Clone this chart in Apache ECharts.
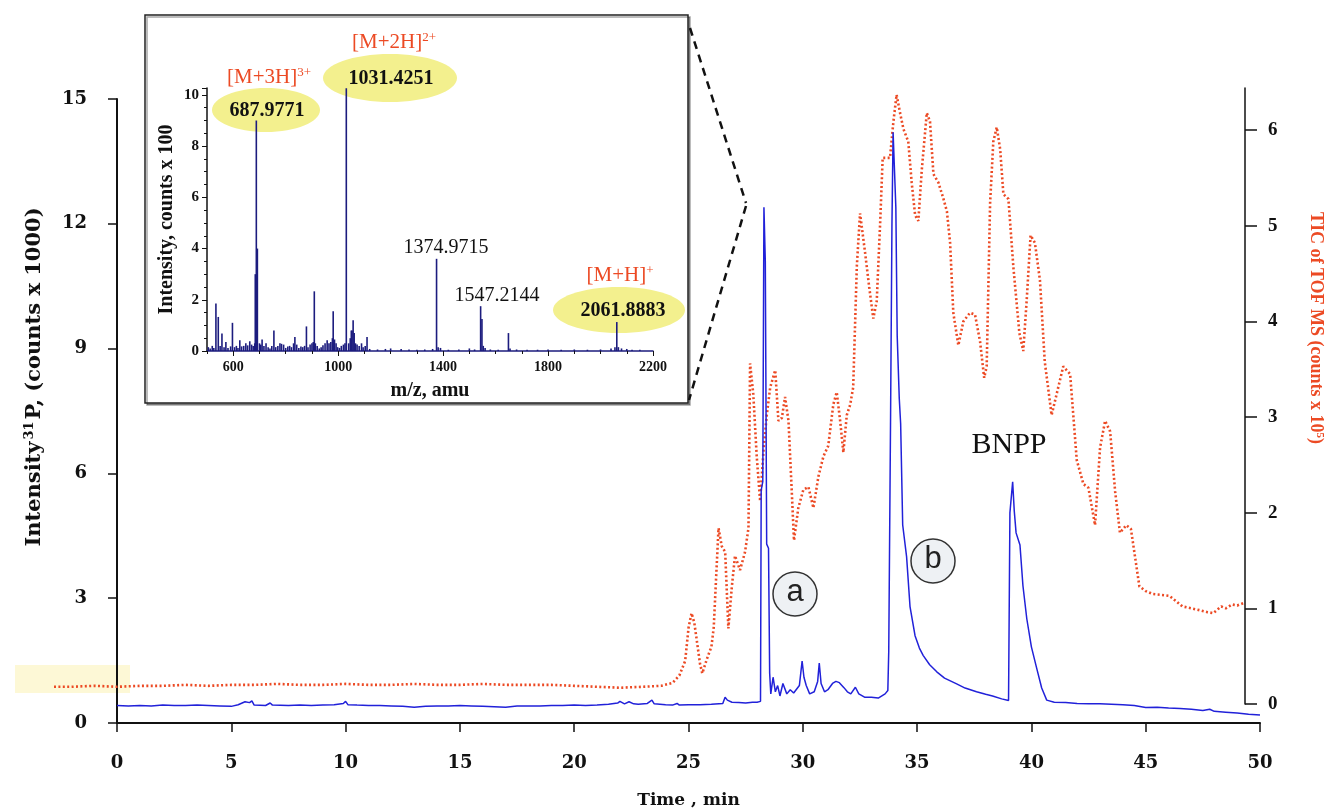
<!DOCTYPE html>
<html>
<head>
<meta charset="utf-8">
<script src="https://cdn.jsdelivr.net/npm/echarts@6/dist/echarts.min.js"></script>
<style>
html, body { margin: 0; padding: 0; background: #fff; }
#chart { width: 1328px; height: 810px; }
</style>
</head>
<body>
<div id="chart"></div>
<script>
// ICP-MS 31P trace (time in min, counts x 1000)
var icpTime = [
  0, 0.5, 1, 1.5, 2, 2.5, 3, 3.5, 4, 4.5, 5, 5.3, 5.6, 5.8, 5.9, 6.0, 6.5, 6.7, 6.8, 7.5,
  8, 8.5, 9, 9.5, 9.9, 10.0, 10.1, 10.5, 11, 11.5, 12, 12.5, 13, 13.5, 14, 14.5, 15, 15.5, 16, 16.5,
  17, 17.5, 18, 18.5, 19, 19.5, 20, 20.5, 21, 21.5, 21.9, 22.0, 22.2, 22.4, 22.6, 22.8, 23.2, 23.4, 23.5, 24,
  24.3, 24.5, 24.6, 25, 25.5, 26, 26.5, 26.6, 26.7, 26.9, 27.2, 27.5, 27.8, 28.0, 28.15,
  28.18, 28.25, 28.3, 28.36, 28.42, 28.5, 28.55, 28.6, 28.7, 28.8, 28.9, 29.0, 29.13, 29.3, 29.45, 29.6,
  29.85, 29.97, 30.05, 30.15, 30.3, 30.5, 30.65, 30.72, 30.8, 30.95, 31.1, 31.3, 31.45, 31.6, 31.8, 31.95,
  32.1, 32.3, 32.45, 32.7, 33.0, 33.3, 33.6, 33.72,
  33.76, 33.84, 33.9, 33.95, 34.03, 34.07, 34.13, 34.22, 34.28, 34.37, 34.54, 34.69, 34.91, 35.1, 35.27,
  35.55, 35.86, 36.2, 36.73, 37.1, 37.6, 38.0, 38.3, 38.7, 39.0,
  39.06, 39.18, 39.25, 39.33, 39.5, 39.63, 39.8, 40.0, 40.23, 40.45, 40.67, 41.0, 41.5, 42, 42.5, 43,
  43.5, 44, 44.5, 45, 45.5, 46, 46.5, 47, 47.5, 47.8, 48, 48.5, 49, 49.5, 50
];
var icpSignal = [
  0.42, 0.41, 0.42, 0.41, 0.43, 0.42, 0.42, 0.43, 0.42, 0.41, 0.40, 0.44, 0.51, 0.49, 0.53, 0.43, 0.42, 0.48, 0.43, 0.42,
  0.43, 0.42, 0.43, 0.44, 0.47, 0.52, 0.44, 0.43, 0.42, 0.42, 0.41, 0.40, 0.38, 0.40, 0.41, 0.41, 0.42, 0.41, 0.40, 0.39,
  0.38, 0.41, 0.41, 0.41, 0.42, 0.42, 0.43, 0.42, 0.43, 0.45, 0.48, 0.52, 0.46, 0.51, 0.46, 0.45, 0.47, 0.55, 0.46, 0.44,
  0.43, 0.47, 0.43, 0.44, 0.44, 0.45, 0.47, 0.62, 0.55, 0.50, 0.49, 0.48, 0.50, 0.50, 0.52,
  5.6, 5.8, 12.4, 11.1, 4.3, 4.2, 1.2, 0.7, 1.1, 0.75, 0.9, 0.65, 0.95, 0.7, 0.8, 0.72,
  0.9, 1.49, 1.1, 0.9, 0.7, 0.75, 1.0, 1.44, 0.95, 0.75, 0.8, 0.95, 1.0, 0.97, 0.85, 0.75,
  0.7, 0.86, 0.7, 0.62, 0.62, 0.6, 0.7, 0.78,
  1.73, 7.4, 12.0, 14.2, 13.0, 12.4, 9.3, 7.8, 7.2, 4.76, 4.0, 2.8, 2.1, 1.8, 1.62,
  1.4, 1.23, 1.08, 0.94, 0.84, 0.75, 0.69, 0.65, 0.58, 0.54,
  5.05, 5.8, 5.1, 4.57, 4.28, 3.3, 2.5, 1.83, 1.32, 0.84, 0.55, 0.5, 0.49, 0.47, 0.46, 0.46,
  0.45, 0.44, 0.42, 0.37, 0.38, 0.36, 0.35, 0.33, 0.3, 0.33, 0.28, 0.26, 0.24, 0.21, 0.19
];

// TIC of TOF MS (time in min, counts x 10^5)
var ticTime = [
  -2.76, -2, -1, 0, 1, 2, 3, 4, 5, 6, 7, 8, 9, 10, 11, 12, 13, 14, 15, 16, 17, 18, 19, 20, 21, 22, 23, 23.8, 24.3, 24.6, 24.85,
  25.0, 25.13, 25.25, 25.35, 25.5, 25.6, 25.8, 26.0, 26.1, 26.2, 26.31, 26.45, 26.6, 26.74, 26.89, 27.03, 27.25, 27.47, 27.62, 27.69,
  27.83, 27.98, 28.13, 28.28, 28.42, 28.57, 28.79, 28.93, 29.08, 29.22, 29.37, 29.51, 29.61, 29.8, 30.02, 30.24, 30.46, 30.68, 30.9, 31.11,
  31.33, 31.48, 31.63, 31.77, 31.92, 32.07, 32.2, 32.36, 32.5, 32.72, 32.9, 33.08, 33.23, 33.38, 33.49, 33.81, 33.96, 34.1, 34.25, 34.4,
  34.61, 34.76, 34.91, 35.05, 35.2, 35.42, 35.56, 35.71, 35.93, 36.15, 36.3, 36.44, 36.58, 36.8, 37.02, 37.31, 37.53, 37.75, 37.93, 38.04,
  38.19, 38.33, 38.48, 38.63, 38.77, 38.99, 39.21, 39.47, 39.64, 39.79, 39.96, 40.15, 40.37, 40.58, 40.88, 41.1, 41.39, 41.69, 41.98, 42.27,
  42.49, 42.78, 43.0, 43.22, 43.44, 43.66, 43.87, 44.15, 44.35, 44.72, 45.0, 45.3, 45.7, 46.04, 46.3, 46.6, 47.0, 47.37, 47.7, 47.95,
  48.3, 48.5, 48.78, 49.0, 49.34
];
var ticSignal = [
  0.18, 0.18, 0.19, 0.18, 0.19, 0.19, 0.2, 0.19, 0.2, 0.2, 0.21, 0.2, 0.2, 0.21, 0.2, 0.2, 0.21, 0.2, 0.2, 0.21, 0.2, 0.2, 0.2, 0.19, 0.18, 0.17, 0.18, 0.19, 0.22, 0.3, 0.45,
  0.8, 0.95, 0.85, 0.68, 0.42, 0.32, 0.47, 0.6, 0.8, 1.3, 1.84, 1.65, 1.59, 0.79, 1.22, 1.55, 1.4, 1.59, 1.84, 3.56,
  3.24, 2.59, 2.12, 2.66, 3.02, 3.31, 3.49, 2.96, 2.99, 3.21, 2.96, 2.24, 1.71, 2.05, 2.24, 2.27, 2.05, 2.38, 2.59, 2.7,
  3.13, 3.26, 2.96, 2.63, 3.02, 3.13, 3.31, 4.58, 5.13, 4.72, 4.36, 4.03, 4.21, 5.03, 5.71, 5.71, 6.09, 6.37, 6.18, 6.01,
  5.88, 5.45, 5.11, 5.05, 5.58, 6.18, 6.09, 5.54, 5.45, 5.28, 5.15, 4.82, 4.09, 3.75, 4.0, 4.09, 4.07, 3.79, 3.41, 3.53,
  5.24, 5.88, 6.03, 5.8, 5.33, 5.28, 4.56, 3.88, 3.69, 4.22, 4.9, 4.82, 4.43, 3.58, 3.02, 3.24, 3.53, 3.45, 2.55, 2.3,
  2.26, 1.87, 2.68, 2.96, 2.85, 2.22, 1.79, 1.87, 1.83, 1.23, 1.18, 1.15, 1.14, 1.13, 1.08, 1.02, 1.0, 0.98, 0.96, 0.95,
  1.02, 1.0, 1.04, 1.03, 1.06
];

// inset mass spectrum (m/z, counts x 100)
var mz = [
  505, 512, 520, 526, 534, 543, 550, 557, 565, 572, 580, 590, 597, 605, 612, 618, 625, 632, 640, 648,
  655, 663, 670, 676, 682, 684, 688, 692, 700, 705, 710, 717, 725, 733, 740, 747, 755, 762, 770, 778,
  784, 792, 800, 808, 815, 822, 830, 835, 842, 850, 858, 865, 872, 879, 885, 893, 900, 905, 909, 913,
  920, 928, 935, 942, 950, 958, 965, 972, 978, 981, 986, 992, 998, 1005, 1012, 1020, 1026, 1031, 1040, 1046,
  1050, 1053, 1057, 1061, 1066, 1072, 1080, 1089, 1095, 1103, 1110, 1120, 1150, 1180, 1200, 1240, 1270, 1300, 1330, 1360,
  1375, 1381, 1390, 1420, 1460, 1500, 1520, 1543, 1548, 1553, 1560, 1580, 1610, 1649, 1655, 1680, 1720, 1760, 1800, 1850,
  1900, 1950, 2000, 2040, 2055, 2062, 2068, 2080, 2100, 2120, 2150
];
var mzIntensity = [
  0.15, 0.1, 0.2, 0.12, 1.85, 1.33, 0.2, 0.68, 0.15, 0.35, 0.12, 0.18, 1.1, 0.15, 0.2, 0.12, 0.42, 0.18, 0.2, 0.3,
  0.22, 0.38, 0.25, 0.2, 0.3, 3.0, 9.0, 4.0, 0.3, 0.25, 0.45, 0.2, 0.3, 0.15, 0.1, 0.2, 0.8, 0.15, 0.2, 0.3,
  0.28, 0.25, 0.12, 0.18, 0.2, 0.15, 0.3, 0.55, 0.25, 0.12, 0.18, 0.15, 0.2, 0.96, 0.15, 0.25, 0.3, 0.35, 2.33, 0.3,
  0.2, 0.1, 0.15, 0.22, 0.3, 0.42, 0.3, 0.35, 0.5, 1.55, 0.45, 0.3, 0.15, 0.12, 0.2, 0.25, 0.3, 10.26, 0.3, 0.5,
  0.8, 0.8, 1.2, 0.7, 0.3, 0.25, 0.2, 0.3, 0.15, 0.2, 0.55, 0.08, 0.06, 0.08, 0.1, 0.08, 0.06, 0.05, 0.06, 0.08,
  3.6, 0.15, 0.12, 0.05, 0.06, 0.1, 0.06, 1.75, 1.25, 0.2, 0.12, 0.06, 0.05, 0.7, 0.1, 0.06, 0.05, 0.05, 0.06, 0.05,
  0.06, 0.05, 0.06, 0.1, 0.15, 1.13, 0.15, 0.1, 0.08, 0.05, 0.05
];
var mzTicks = [600, 1000, 1400, 1800, 2200];

function zip(a, b) {
  return a.map(function (v, i) { return [v, b[i]]; });
}

var RED = '#ec4a24';
var BLUE = '#2121d9';
var NAVY = '#1c1c7e';
var INK = '#111';
var BIGSERIF = 'DejaVu Serif';
var SERIF = 'Liberation Serif';
var supRed = { fontFamily: SERIF, fontSize: 13, fill: RED, color: RED, verticalAlign: 'top', padding: [0, 0, 8, 0] };
var mainRed = { fontFamily: SERIF, fontSize: 21, fill: RED, color: RED };

var chart = echarts.init(document.getElementById('chart'));

var option = {
  backgroundColor: '#fff',
  animation: false,
  textStyle: { fontFamily: SERIF },
  grid: [
    { left: 117, right: 68, top: 99, bottom: 87, outerBoundsMode: 'none', containLabel: false },   // ICP-MS
    { left: 54, right: 83, top: 88, bottom: 106, outerBoundsMode: 'none', containLabel: false },   // TIC
    { left: 207, right: 675, top: 88, bottom: 459, outerBoundsMode: 'none', containLabel: false }  // inset spectrum
  ],
  xAxis: [
    {
      type: 'value', gridIndex: 0, min: 0, max: 50, interval: 5,
      name: 'Time , min', nameLocation: 'middle', nameGap: 69,
      nameTextStyle: { fontFamily: BIGSERIF, fontWeight: 'bold', fontSize: 17, color: INK },
      axisLine: { lineStyle: { color: INK, width: 2 } },
      axisTick: { length: 9, lineStyle: { color: INK, width: 1.5 } },
      axisLabel: { margin: 31, fontFamily: BIGSERIF, fontWeight: 'bold', fontSize: 18, color: INK },
      splitLine: { show: false }
    },
    { type: 'value', gridIndex: 1, min: -2.76, max: 49.34, show: false },
    {
      type: 'value', gridIndex: 2, min: 500, max: 2200,
      name: 'm/z, amu', nameLocation: 'middle', nameGap: 30,
      nameTextStyle: { fontWeight: 'bold', fontSize: 20, color: INK },
      axisLine: { lineStyle: { color: NAVY, width: 1.5 } },
      axisTick: { customValues: mzTicks, length: 5, lineStyle: { color: INK } },
      axisLabel: { customValues: mzTicks, margin: 9, fontWeight: 'bold', fontSize: 14, color: INK,
        formatter: function (v) { return String(v); } },
      splitLine: { show: false }
    },
    {
      type: 'value', gridIndex: 2, min: 500, max: 2200, interval: 100, position: 'bottom',
      axisLine: { show: false }, axisLabel: { show: false },
      axisTick: { length: 3, lineStyle: { color: INK } },
      splitLine: { show: false }
    }
  ],
  yAxis: [
    {
      type: 'value', gridIndex: 0, min: 0, max: 15, interval: 3, position: 'left',
      name: 'Intensity{s|31}P, (counts x 1000)', nameLocation: 'middle', nameGap: 71, nameRotate: 90,
      nameTextStyle: {
        fontFamily: BIGSERIF, fontWeight: 'bold', fontSize: 21, color: INK, padding: [0, 0, 0, 68],
        rich: { s: { fontFamily: BIGSERIF, fontWeight: 'bold', fontSize: 13, color: INK, verticalAlign: 'top', padding: [0, 2, 10, 2] } }
      },
      axisLine: { lineStyle: { color: INK, width: 2 } },
      axisTick: { length: 9, lineStyle: { color: INK, width: 1.5 } },
      axisLabel: { margin: 30, fontFamily: BIGSERIF, fontWeight: 'bold', fontSize: 18, color: INK },
      splitLine: { show: false }
    },
    {
      type: 'value', gridIndex: 1, min: 0, max: 6.44, interval: 1, position: 'right',
      name: 'TIC of TOF MS (counts x 10{s|5})', nameLocation: 'middle', nameGap: 61, nameRotate: -90,
      nameTextStyle: {
        fontWeight: 'bold', fontSize: 18, color: RED, padding: [0, 136, 0, 0],
        rich: { s: { fontWeight: 'bold', fontSize: 11, color: RED, verticalAlign: 'top', padding: [0, 0, 8, 0] } }
      },
      axisLine: { onZero: false, lineStyle: { color: INK, width: 1.5 } },
      axisTick: { length: 12, lineStyle: { color: INK, width: 1.5 } },
      axisLabel: { margin: 23, fontWeight: 'bold', fontSize: 19, color: INK, showMaxLabel: false },
      splitLine: { show: false }
    },
    {
      type: 'value', gridIndex: 2, min: 0, max: 10.27, interval: 2,
      name: 'Intensity, counts x 100', nameLocation: 'middle', nameGap: 30, nameRotate: 90,
      nameTextStyle: { fontWeight: 'bold', fontSize: 20, color: INK },
      axisLine: { lineStyle: { color: INK, width: 1.5 } },
      axisTick: { length: 5, lineStyle: { color: INK } },
      minorTick: { show: true, splitNumber: 4, length: 3, lineStyle: { color: INK } },
      axisLabel: { margin: 8, fontWeight: 'bold', fontSize: 15, color: INK, showMaxLabel: false },
      splitLine: { show: false }
    }
  ],
  graphic: [
    // pale highlight at the TIC baseline
    { type: 'rect', z: -10, shape: { x: 15, y: 665, width: 115, height: 28 },
      style: { fill: 'rgba(252,245,200,0.75)' } },
    // inset frame
    { type: 'rect', z: -5, shape: { x: 145, y: 15, width: 543, height: 388 },
      style: { fill: '#fff', stroke: '#222', lineWidth: 1.5, shadowColor: 'rgba(0,0,0,0.35)', shadowOffsetX: 2, shadowOffsetY: 2 } },
    // zoom lines to peak a
    { type: 'line', z: 5, shape: { x1: 690, y1: 28, x2: 746, y2: 203 },
      style: { stroke: INK, lineWidth: 2.5, lineDash: [8, 6] } },
    { type: 'line', z: 5, shape: { x1: 746, y1: 206, x2: 689, y2: 400 },
      style: { stroke: INK, lineWidth: 2.5, lineDash: [8, 6] } },
    // yellow ellipses
    { type: 'ellipse', z: 1, shape: { cx: 266, cy: 110, rx: 54, ry: 22 }, style: { fill: '#f3f08e' } },
    { type: 'ellipse', z: 1, shape: { cx: 390, cy: 78, rx: 67, ry: 24 }, style: { fill: '#f3f08e' } },
    { type: 'ellipse', z: 1, shape: { cx: 619, cy: 310, rx: 66, ry: 23 }, style: { fill: '#f3f08e' } },
    // peak labels
    { type: 'text', z: 50, style: { x: 269, y: 77, text: '{m|[M+3H]}{s|3+}', align: 'center', verticalAlign: 'middle',
      rich: { m: mainRed, s: supRed } } },
    { type: 'text', z: 50, style: { x: 267, y: 111, text: '687.9771', align: 'center', verticalAlign: 'middle',
      font: 'bold 20px "Liberation Serif"', fill: INK } },
    { type: 'text', z: 50, style: { x: 394, y: 42, text: '{m|[M+2H]}{s|2+}', align: 'center', verticalAlign: 'middle',
      rich: { m: mainRed, s: supRed } } },
    { type: 'text', z: 50, style: { x: 391, y: 79, text: '1031.4251', align: 'center', verticalAlign: 'middle',
      font: 'bold 20px "Liberation Serif"', fill: INK } },
    { type: 'text', z: 50, style: { x: 446, y: 248, text: '1374.9715', align: 'center', verticalAlign: 'middle',
      font: '20px "Liberation Serif"', fill: INK } },
    { type: 'text', z: 50, style: { x: 497, y: 296, text: '1547.2144', align: 'center', verticalAlign: 'middle',
      font: '20px "Liberation Serif"', fill: INK } },
    { type: 'text', z: 50, style: { x: 620, y: 275, text: '{m|[M+H]}{s|+}', align: 'center', verticalAlign: 'middle',
      rich: { m: mainRed, s: supRed } } },
    { type: 'text', z: 50, style: { x: 623, y: 311, text: '2061.8883', align: 'center', verticalAlign: 'middle',
      font: 'bold 20px "Liberation Serif"', fill: INK } },
    // peak markers a, b and BNPP
    { type: 'circle', z: 20, shape: { cx: 795, cy: 594, r: 22 }, style: { fill: '#eef1f4', stroke: '#333', lineWidth: 1.5 } },
    { type: 'text', z: 50, style: { x: 795, y: 592, text: 'a', align: 'center', verticalAlign: 'middle',
      font: '31px "Liberation Sans"', fill: '#222' } },
    { type: 'circle', z: 20, shape: { cx: 933, cy: 561, r: 22 }, style: { fill: '#eef1f4', stroke: '#333', lineWidth: 1.5 } },
    { type: 'text', z: 50, style: { x: 933, y: 559, text: 'b', align: 'center', verticalAlign: 'middle',
      font: '31px "Liberation Sans"', fill: '#222' } },
    { type: 'text', z: 50, style: { x: 1009, y: 445, text: 'BNPP', align: 'center', verticalAlign: 'middle',
      font: '30px "Liberation Serif"', fill: INK } }
  ],
  series: [
    {
      name: 'TIC', type: 'line', xAxisIndex: 1, yAxisIndex: 1, silent: true,
      showSymbol: false, data: zip(ticTime, ticSignal),
      lineStyle: { color: RED, width: 2.6, type: [2, 2.4] }
    },
    {
      name: '31P', type: 'line', xAxisIndex: 0, yAxisIndex: 0, silent: true,
      showSymbol: false, data: zip(icpTime, icpSignal),
      lineStyle: { color: BLUE, width: 1.5 }
    },
    {
      name: 'MS', type: 'bar', xAxisIndex: 2, yAxisIndex: 2, silent: true,
      barWidth: 1.6, data: zip(mz, mzIntensity),
      itemStyle: { color: NAVY }
    }
  ]
};

chart.setOption(option);
</script>
</body>
</html>
